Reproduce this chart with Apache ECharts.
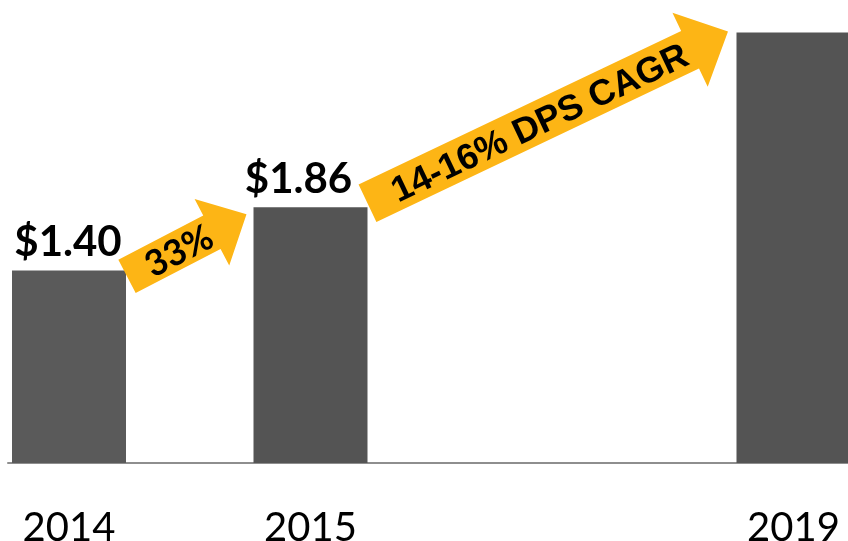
<!DOCTYPE html>
<html><head><meta charset="utf-8">
<script src="https://cdn.jsdelivr.net/npm/echarts@6/dist/echarts.min.js"></script>
<style>html,body{margin:0;padding:0;background:#fff}#c{width:848px;height:541px}</style>
</head><body><div id="c"></div>
<script>
// ---- data ----
const categories = ['2014', '2015', '', '2019'];
const dps = [1.40, 1.86, null, 3.13];
const valueLabels = ['$1.40', '$1.86', '', ''];
const growthLabels = ['33%', '14-16% DPS CAGR'];
// arrows connect bar index pairs
const growthFrom = [0, 1];
const growthTo = [1, 3];

// ---- chart ----
const chart = echarts.init(document.getElementById('c'), null, { renderer: 'canvas' });
const BAR_W = 114;
const barColors = ['#5a5a5a', '#545454', '#545454', '#545454'];
const labelShift = [[-1, 0], [-12, 0], [0, 0], [0, 0]];
const seriesData = categories.map((c, i) => ({
  value: [i, dps[i]],
  itemStyle: { color: barColors[i] },
  label: { offset: labelShift[i] }
})).filter(d => d.value[1] != null);
const labelIdx = categories.map((c, i) => i).filter(i => categories[i] !== '');

chart.setOption({
  animation: false,
  grid: { left: 8, right: 0, top: 0, bottom: 78, containLabel: false, outerBoundsMode: 'none' },
  xAxis: {
    type: 'value', min: -0.2526, max: 3.2257,
    splitLine: { show: false },
    axisTick: { show: false },
    axisLine: { show: true, onZero: false, lineStyle: { color: '#8e8e8e', width: 2 } },
    axisLabel: {
      customValues: labelIdx,
      formatter: v => categories[Math.round(v)] || '',
      fontFamily: 'Lato', fontSize: 40, color: '#000', lineHeight: 40, margin: 45,
      showMinLabel: true, showMaxLabel: true
    }
  },
  yAxis: { type: 'value', min: 0, max: 3.367, show: false },
  series: [{
    type: 'bar',
    data: seriesData,
    barWidth: BAR_W,
    label: {
      show: true, position: 'top', distance: 7,
      formatter: p => valueLabels[p.value[0]],
      fontFamily: 'Lato', fontWeight: 'bold', fontSize: 42, lineHeight: 42, color: '#000'
    }
  }]
});

function topLeft(i) {
  const p = chart.convertToPixel({ gridIndex: 0 }, [i, dps[i]]);
  return [p[0] - BAR_W / 2, p[1]];
}
function topRight(i) {
  const p = chart.convertToPixel({ gridIndex: 0 }, [i, dps[i]]);
  return [p[0] + BAR_W / 2, p[1]];
}
function arrow(T, P, thick, headW, headL, text, font, along, perpOff) {
  const dx = P[0] - T[0], dy = P[1] - T[1];
  const len = Math.hypot(dx, dy);
  const u = [dx / len, dy / len];
  const n = [-u[1], u[0]];
  const H = [P[0] - u[0] * headL, P[1] - u[1] * headL];
  const pt = (b, k) => [b[0] + n[0] * k, b[1] + n[1] * k];
  const pts = [pt(T, -thick / 2), pt(H, -thick / 2), pt(H, -headW / 2), P,
               pt(H, headW / 2), pt(H, thick / 2), pt(T, thick / 2)];
  const C = [T[0] + u[0] * len * along + n[0] * perpOff, T[1] + u[1] * len * along + n[1] * perpOff];
  return [
    { type: 'polygon', z: 100, shape: { points: pts }, style: { fill: '#FDB515' } },
    { type: 'text', z: 101, x: C[0], y: C[1], rotation: Math.atan2(-dy, dx),
      style: { text: text, font: font, fill: '#000', align: 'center', verticalAlign: 'middle' } }
  ];
}

const tr0 = topRight(growthFrom[0]), tl1 = topLeft(growthTo[0]);
const tr1 = topRight(growthFrom[1]), tl3 = topLeft(growthTo[1]);
const g = [].concat(
  arrow([tr0[0] + 1, tr0[1] + 6], [tl1[0] - 7, tl1[1] + 7], 37.5, 75, 39,
        growthLabels[0], 'bold 36px Lato', 0.43, 2),
  arrow([tr1[0], tr1[1] - 4], [tl3[0] - 8.5, tl3[1] - 1], 41.5, 82, 42,
        growthLabels[1], 'bold 36px "Liberation Sans"', 0.476, 3)
);
chart.setOption({ graphic: { elements: g } });
</script>
</body></html>
